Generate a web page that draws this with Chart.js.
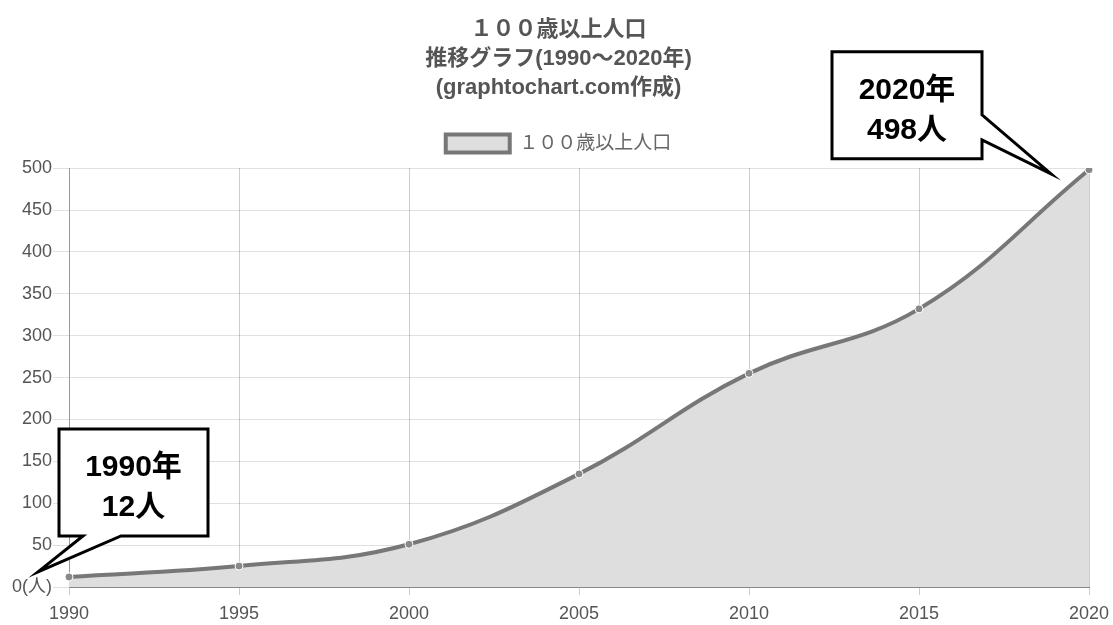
<!DOCTYPE html>
<html>
<head>
<meta charset="utf-8">
<script src="https://cdn.jsdelivr.net/npm/chart.js@4/dist/chart.umd.min.js"></script>
<style>
  html, body { margin: 0; padding: 0; background: #fff; }
  #wrap { width: 1113px; height: 625px; }
</style>
</head>
<body>
<div id="wrap"><canvas id="c1"></canvas></div>
<script>
const years = ['1990', '1995', '2000', '2005', '2010', '2015', '2020'];
const population = [12, 25, 51, 135, 255, 332, 498];
const seriesLabel = '１００歳以上人口';
const titleLines = ['１００歳以上人口', '推移グラフ(1990～2020年)', '(graphtochart.com作成)'];

const FONT = "Arial, 'Liberation Sans', 'Noto Sans CJK JP', sans-serif";

// speech-bubble callouts pointing at first and last points
function drawCallout(ctx, box, tail, tip, lines) {
  ctx.save();
  ctx.beginPath();
  const L = box.x, T = box.y, R = box.x + box.w, B = box.y + box.h;
  ctx.moveTo(L, T);
  ctx.lineTo(R, T);
  if (tail.side === 'right') {
    ctx.lineTo(R, tail.a);
    ctx.lineTo(tip.x, tip.y);
    ctx.lineTo(R, tail.b);
    ctx.lineTo(R, B);
    ctx.lineTo(L, B);
  } else {
    ctx.lineTo(R, B);
    ctx.lineTo(tail.b, B);
    ctx.lineTo(tip.x, tip.y);
    ctx.lineTo(tail.a, B);
    ctx.lineTo(L, B);
  }
  ctx.closePath();
  ctx.fillStyle = '#fff';
  ctx.fill();
  ctx.lineWidth = 3;
  ctx.lineJoin = 'miter';
  ctx.strokeStyle = '#000';
  ctx.stroke();
  ctx.fillStyle = '#000';
  ctx.font = "bold 30px " + FONT;
  ctx.textAlign = 'center';
  ctx.textBaseline = 'middle';
  const cx = L + box.w / 2;
  ctx.fillText(lines[0], cx, T + box.h * 0.36);
  ctx.fillText(lines[1], cx, T + box.h * 0.74);
  ctx.restore();
}

const calloutPlugin = {
  id: 'callouts',
  afterDraw(chart) {
    const ctx = chart.ctx;
    const pts = chart.getDatasetMeta(0).data;
    const first = pts[0], last = pts[pts.length - 1];
    const n = population.length - 1;

    const tip1 = { x: first.x - 31, y: first.y - 5 };
    drawCallout(ctx,
      { x: tip1.x + 21, y: tip1.y - 143, w: 149, h: 107 },
      { side: 'bottom', a: tip1.x + 45, b: tip1.x + 83 },
      tip1,
      [years[0] + '年', population[0] + '人']);

    const tip2 = { x: last.x - 38, y: last.y + 4 };
    drawCallout(ctx,
      { x: tip2.x - 219, y: tip2.y - 122, w: 150, h: 107 },
      { side: 'right', a: tip2.y - 59, b: tip2.y - 34 },
      tip2,
      [years[n] + '年', population[n] + '人']);
  }
};

// extra room under the legend
const legendGap = {
  id: 'legendGap',
  beforeInit(chart) {
    const fit = chart.legend.fit;
    chart.legend.fit = function () {
      fit.call(this);
      this.height += 5;
    };
  }
};

const ctx = document.getElementById('c1').getContext('2d');
new Chart(ctx, {
  type: 'line',
  data: {
    labels: years,
    datasets: [{
      label: seriesLabel,
      data: population,
      borderColor: '#777',
      backgroundColor: '#dedede',
      borderWidth: 4,
      fill: 'origin',
      tension: 0.4,
      pointRadius: 4,
      pointBackgroundColor: '#888',
      pointBorderColor: '#fff',
      pointBorderWidth: 1
    }]
  },
  options: {
    responsive: true,
    maintainAspectRatio: false,
    animation: false,
    layout: { padding: { left: 4, right: 0, top: 15, bottom: 2 } },
    plugins: {
      title: {
        display: true,
        text: titleLines,
        color: '#555',
        font: { family: FONT, size: 22, weight: 'bold', lineHeight: 1.32 },
        padding: { top: 0, bottom: 17 }
      },
      legend: {
        labels: {
          boxWidth: 64,
          boxHeight: 18,
          color: '#666',
          font: { family: FONT, size: 19 },
          padding: 15
        }
      },
      tooltip: { enabled: false }
    },
    scales: {
      x: {
        grid: { color: 'rgba(0,0,0,0.2)', tickLength: 8 },
        border: { color: '#888', width: 1 },
        ticks: { color: '#555', font: { family: FONT, size: 18 }, padding: 8, maxRotation: 0 },
        afterFit(scale) { scale.height = 36; scale.paddingRight = 24; }
      },
      y: {
        min: 0,
        max: 500,
        grid: { color: 'rgba(0,0,0,0.12)', tickLength: 16 },
        border: { color: '#999', width: 1 },
        ticks: {
          stepSize: 50,
          color: '#555',
          padding: 1,
          font: { family: FONT, size: 18 },
          callback: v => v === 0 ? '0(人)' : v
        },
        afterFit(scale) { scale.width = 65; }
      }
    }
  },
  plugins: [calloutPlugin, legendGap]
});
</script>
</body>
</html>
